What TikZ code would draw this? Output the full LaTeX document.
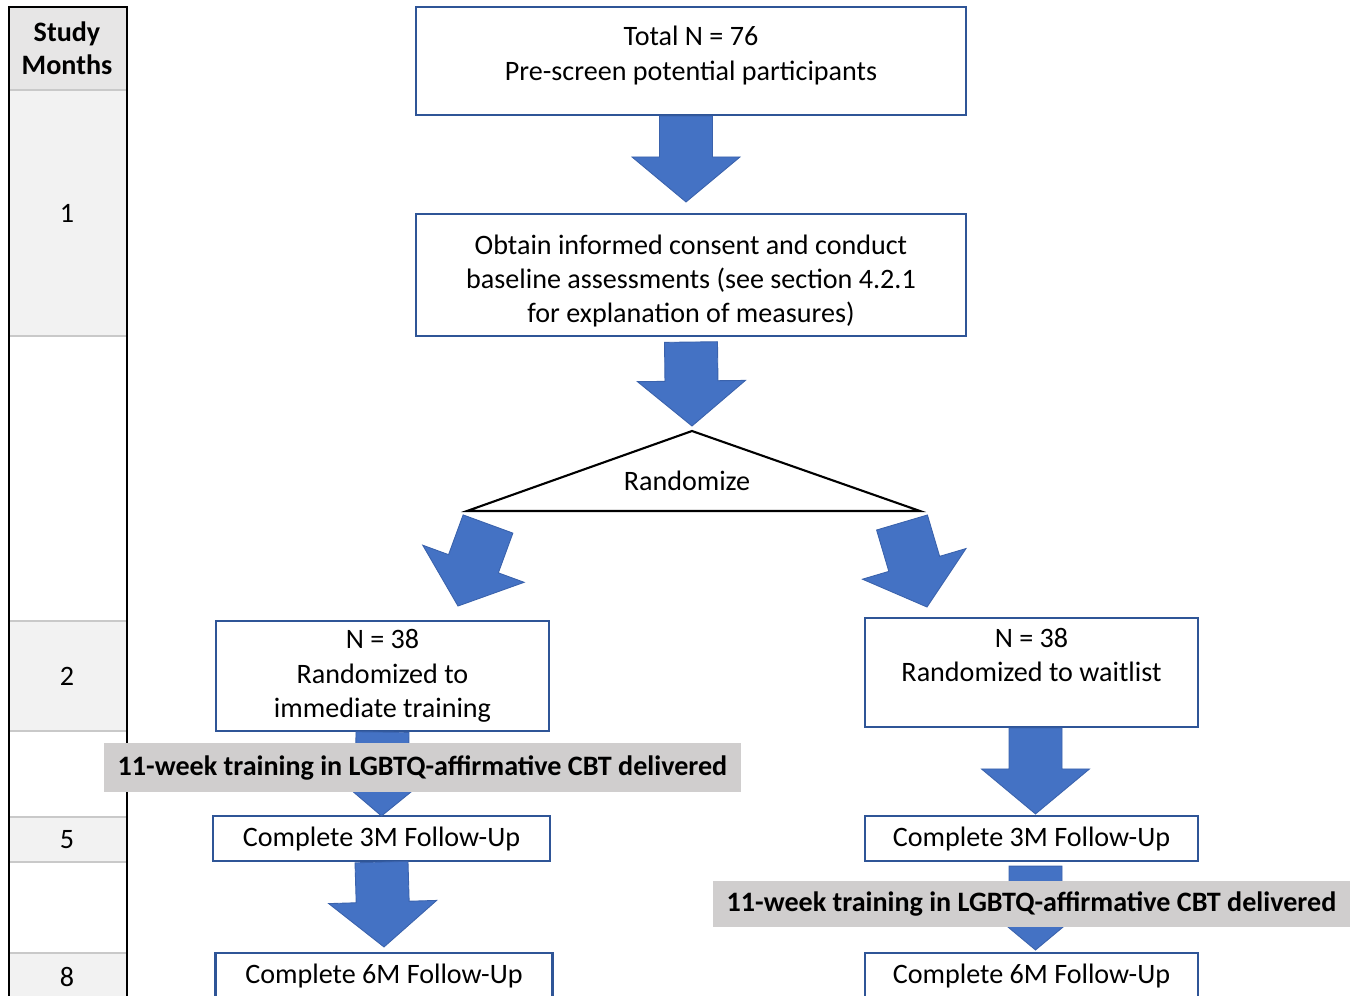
\documentclass[tikz,border=0pt]{standalone}
\usepackage{fontspec}
\setmainfont{Carlito}
\usetikzlibrary{calc}
\definecolor{boxblue}{HTML}{2F5597}
\definecolor{arrowblue}{HTML}{4472C4}
\definecolor{arrowedge}{HTML}{3A62AC}
\definecolor{hdrgray}{HTML}{E7E6E6}
\definecolor{cellgray}{HTML}{F2F2F2}
\definecolor{rulegray}{HTML}{C9C9C9}
\definecolor{bargray}{HTML}{D0CECE}

% wide block arrow from #1 to #2 (tip at #2)
\newcommand{\blockarrow}[2]{%
  \coordinate (hb) at ($(#2)!0.9cm!(#1)$);
  \filldraw[fill=arrowblue, draw=arrowedge, line width=0.5pt]
    ($(#1)!0.53cm!90:(#2)$) -- ($(hb)!0.53cm!90:(#2)$) -- ($(hb)!1.08cm!90:(#2)$)
    -- (#2) -- ($(hb)!1.08cm!-90:(#2)$) -- ($(hb)!0.53cm!-90:(#2)$)
    -- ($(#1)!0.53cm!-90:(#2)$) -- cycle;}

\begin{document}
\begin{tikzpicture}[x=0.02cm, y=-0.02cm,
  box/.style={draw=boxblue, line width=1.2pt, fill=white, text=black,
              align=center, inner sep=0pt, font=\fontsize{16}{19.5}\selectfont},
  cell/.style={fill=cellgray, minimum width=2.36cm, inner sep=0pt,
               align=center, font=\fontsize{16}{19}\selectfont},
  bar/.style={fill=bargray, minimum width=12.74cm, inner sep=0pt,
              font=\fontsize{16}{19.5}\selectfont\bfseries}]

\useasboundingbox (0,0) rectangle (1357,995);

% =========== STUDY MONTHS COLUMN ===========
\node[cell, fill=hdrgray, minimum height=1.66cm] (hdr) at (67,48.5) {\textbf{Study}\\\textbf{Months}};
\node[cell, minimum height=4.92cm] (mon1) at (67,213) {1};
\node[cell, minimum height=2.2cm] (mon2) at (67,676) {2};
\node[cell, minimum height=0.9cm] (mon5) at (67,839.5) {5};
\node[cell, minimum height=0.94cm] (mon8) at (67,977) {8};

\foreach \yy in {90,336,621,731,817,862,953}
  \draw[rulegray, line width=1.2pt] (9,\yy) -- (127,\yy);
\draw[black, line width=1.2pt] (9,1000) -- (9,7) -- (127,7) -- (127,1000);

% =========== FLOW ===========
\node[box, minimum width=11cm, minimum height=2.16cm] (total) at (691,61)
  {Total N = 76\\Pre-screen potential participants\\[-16.5pt]\strut};
\node[box, minimum width=11cm, minimum height=2.44cm] (consent) at (691,275)
  {\strut\\[-15pt]Obtain informed consent and conduct\\baseline assessments (see section 4.2.1\\for explanation of measures)};

% Randomize triangle
\coordinate (apex) at (692,431);
\coordinate (bl) at (467,511);
\coordinate (br) at (920,511);
\draw[black, line width=1.2pt, line join=miter] (apex) -- (br) -- (bl) -- cycle;
\node[font=\fontsize{16}{19}\selectfont] (rand) at (687,481) {Randomize};

\node[box, minimum width=6.66cm, minimum height=2.2cm] (imm) at (382.5,676)
  {N = 38\\Randomized to\\immediate training};
\node[box, minimum width=6.66cm, minimum height=2.18cm] (wait) at (1031.5,672.5)
  {N = 38\\Randomized to waitlist\\[-5.5pt]\strut};

\node[box, minimum width=6.74cm, minimum height=0.9cm] (imm3) at (381.5,838.5) {Complete 3M Follow-Up};
\node[box, minimum width=6.74cm, minimum height=0.92cm] (imm6) at (384,976) {Complete 6M Follow-Up};
\node[box, minimum width=6.66cm, minimum height=0.9cm] (wait3) at (1031.5,838.5) {Complete 3M Follow-Up};
\node[box, minimum width=6.66cm, minimum height=0.92cm] (wait6) at (1031.5,976) {Complete 6M Follow-Up};

% Arrows
\coordinate (a1s) at ($(total.south)+(-5,0)$);
\coordinate (a1e) at ($(consent.north)+(-5,-11)$);
\blockarrow{a1s}{a1e}
\coordinate (a2s) at ($(consent.south)+(0,5)$);
\coordinate (a2e) at ($(apex)+(0,-5)$);
\blockarrow{a2s}{a2e}
\coordinate (a3s) at ($(bl)+(21,13)$);
\coordinate (a3e) at ($(bl)+(-9,95)$);
\blockarrow{a3s}{a3e}
\coordinate (a4s) at ($(br)+(-18,11.5)$);
\coordinate (a4e) at ($(br)+(7,96)$);
\blockarrow{a4s}{a4e}
\coordinate (a5e) at ($(imm3.north)+(0,1)$);
\blockarrow{imm.south}{a5e}
\coordinate (a6e) at ($(imm6.north)+(0,-5)$);
\blockarrow{imm3.south}{a6e}
\coordinate (a7s) at ($(wait.south)+(4,0)$);
\coordinate (a7e) at ($(wait3.north)+(4,-1)$);
\blockarrow{a7s}{a7e}
\coordinate (a8s) at ($(wait3.south)+(4,4)$);
\coordinate (a8e) at ($(wait6.north)+(4,-2)$);
\blockarrow{a8s}{a8e}

% Training bars
\node[bar, minimum height=0.98cm] (trainL) at (422.5,767.5)
  {11-week training in LGBTQ-affirmative CBT delivered};
\node[bar, minimum height=0.92cm] (trainR) at (1031.5,904)
  {11-week training in LGBTQ-affirmative CBT delivered};

\end{tikzpicture}
\end{document}
